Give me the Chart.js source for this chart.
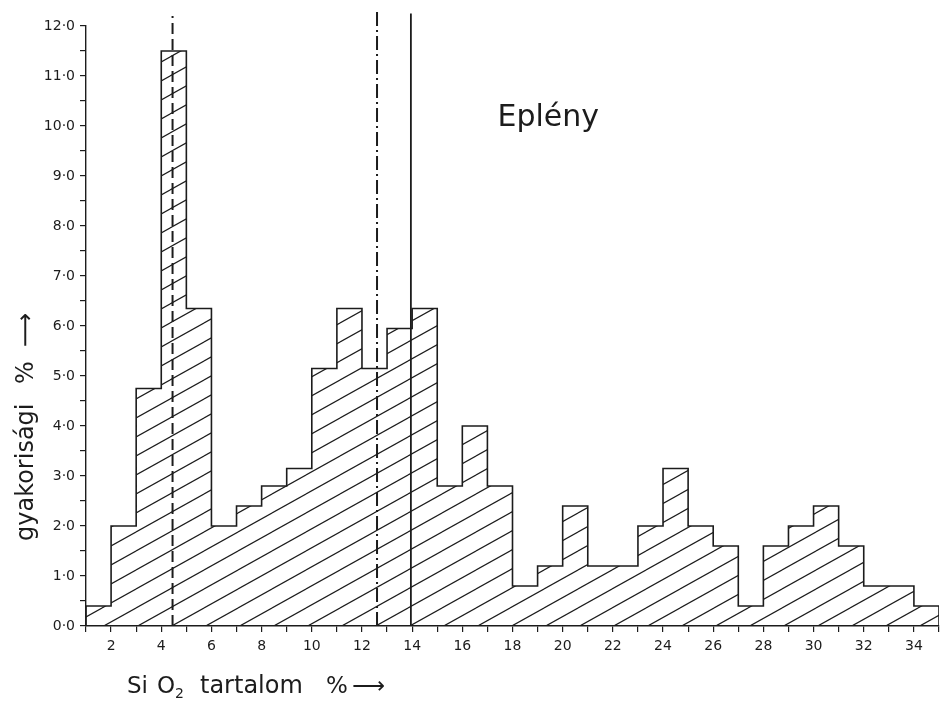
<!DOCTYPE html>
<html>
<head>
<meta charset="utf-8">
<title>Eplény SiO2</title>
<script src="https://cdn.jsdelivr.net/npm/chart.js@4.4.1/dist/chart.umd.min.js"></script>
<style>
  html, body { margin: 0; padding: 0; background: #fff; }
  #wrap { width: 946px; height: 708px; position: relative; }
</style>
</head>
<body>
<div id="wrap"><canvas id="histo"></canvas></div>
<script>
// SiO2 classes: lower edge of each 1 % wide class
const binStart = [1, 2, 3, 4, 5, 6, 7, 8, 9, 10, 11, 12, 13, 14, 15, 16, 17,
                  18, 19, 20, 21, 22, 23, 24, 25, 26, 27, 28, 29, 30, 31, 32, 33, 34];
const binWidth = 1;
// frequency % of each class
const freq = [0.4, 2.0, 4.75, 11.5, 6.35, 2.0, 2.4, 2.8, 3.15, 5.15, 6.35, 5.15, 5.95, 6.35, 2.8, 4.0, 2.8,
              0.8, 1.2, 2.4, 1.2, 1.2, 2.0, 3.15, 2.0, 1.6, 0.4, 1.6, 2.0, 2.4, 1.6, 0.8, 0.8, 0.4];

// the three vertical marker lines (dashed, dash-dot, solid)
const markerX = [4.45, 12.6, 13.95];
const markerTop = [12.2, 12.3, 12.25];

const xLabelled = [2, 4, 6, 8, 10, 12, 14, 16, 18, 20, 22, 24, 26, 28, 30, 32, 34];
const yLabels = ['0·0', '1·0', '2·0', '3·0', '4·0', '5·0', '6·0', '7·0', '8·0', '9·0', '10·0', '11·0', '12·0'];

const ink = '#1c1c1c';
const tickFont = { family: '"DejaVu Sans", sans-serif', size: 14 };

// diagonal hatch pattern
function makeHatch() {
  const w = 34, h = 19;
  const c = document.createElement('canvas');
  c.width = w; c.height = h;
  const g = c.getContext('2d');
  g.strokeStyle = ink;
  g.lineWidth = 1.2;
  for (let dx = -w; dx <= w; dx += w) {
    for (let dy = -h; dy <= h; dy += h) {
      g.beginPath();
      g.moveTo(dx, h + dy);
      g.lineTo(w + dx, dy);
      g.stroke();
    }
  }
  return g.createPattern(c, 'repeat');
}

// outline of the histogram as a stepped line
const last = binStart.length - 1;
const outline = [{ x: binStart[0], y: 0 }];
binStart.forEach((b, i) => outline.push({ x: b, y: freq[i] }));
outline.push({ x: binStart[last] + binWidth, y: freq[last] });
outline.push({ x: binStart[last] + binWidth, y: 0 });

const markerStyles = [[11, 5], [14, 4, 2, 4], []];
const markerWidths = [2, 2, 1.8];

const markerSets = markerX.map((mx, i) => ({
  type: 'line',
  data: [{ x: mx, y: 0 }, { x: mx, y: markerTop[i] }],
  borderColor: ink,
  borderWidth: markerWidths[i],
  borderDash: markerStyles[i],
  pointRadius: 0,
  fill: false,
  clip: false
}));

const textPlugin = {
  id: 'texts',
  afterDraw(chart) {
    const { ctx, scales } = chart;
    const x = scales.x, y = scales.y;
    ctx.save();
    ctx.fillStyle = ink;
    ctx.textBaseline = 'alphabetic';
    ctx.textAlign = 'left';

    // locality name
    ctx.font = '30px "DejaVu Sans", sans-serif';
    ctx.fillText('Eplény', x.getPixelForValue(17.4), y.getPixelForValue(10.0));

    // x axis title
    const base = 693, left = x.left + 41;
    ctx.font = '23px "DejaVu Sans", sans-serif';
    ctx.fillText('Si', left, base);
    ctx.fillText('O', left + 30, base);
    ctx.font = '14px "DejaVu Sans", sans-serif';
    ctx.fillText('2', left + 48, base + 5);
    ctx.font = '24px "DejaVu Sans", sans-serif';
    ctx.fillText('tartalom', left + 73, base);
    ctx.font = '23px "DejaVu Sans", sans-serif';
    ctx.fillText('%', left + 199, base);
    ctx.fillText('⟶', left + 225, base);

    // y axis title
    ctx.translate(33, 541);
    ctx.rotate(-Math.PI / 2);
    ctx.font = '24px "DejaVu Sans", sans-serif';
    ctx.fillText('gyakorisági', 0, 0);
    ctx.fillText('%', 157, 0);
    ctx.fillText('⟶', 194, 0);
    ctx.restore();
  }
};

new Chart(document.getElementById('histo'), {
  type: 'line',
  data: {
    datasets: [
      ...markerSets,
      {
        type: 'line',
        data: outline,
        stepped: 'before',
        borderColor: ink,
        borderWidth: 1.6,
        backgroundColor: makeHatch(),
        fill: 'origin',
        pointRadius: 0
      }
    ]
  },
  options: {
    responsive: true,
    maintainAspectRatio: false,
    animation: false,
    events: [],
    layout: { padding: { top: 26, right: 7, left: 0, bottom: 0 } },
    plugins: { legend: { display: false }, tooltip: { enabled: false } },
    scales: {
      x: {
        type: 'linear',
        min: 1,
        max: 35,
        afterFit: (s) => { s.height = 82; },
        border: { display: true, color: ink, width: 1.6 },
        grid: { display: true, drawOnChartArea: false, drawTicks: true, tickLength: 6, color: ink, lineWidth: 1.2 },
        ticks: {
          stepSize: 1,
          autoSkip: false,
          maxRotation: 0,
          padding: 6,
          color: ink,
          font: tickFont,
          callback: (v) => xLabelled.includes(v) ? String(v) : ''
        }
      },
      y: {
        min: 0,
        max: 12,
        afterFit: (s) => { s.width = 86; },
        border: { display: true, color: ink, width: 1.4 },
        grid: { display: true, drawOnChartArea: false, drawTicks: true, tickLength: 6, color: ink, lineWidth: 1.2 },
        ticks: {
          stepSize: 0.5,
          autoSkip: false,
          padding: 5,
          color: ink,
          font: tickFont,
          callback: (v) => Number.isInteger(v) ? yLabels[v] : ''
        }
      }
    }
  },
  plugins: [textPlugin]
});
</script>
</body>
</html>
